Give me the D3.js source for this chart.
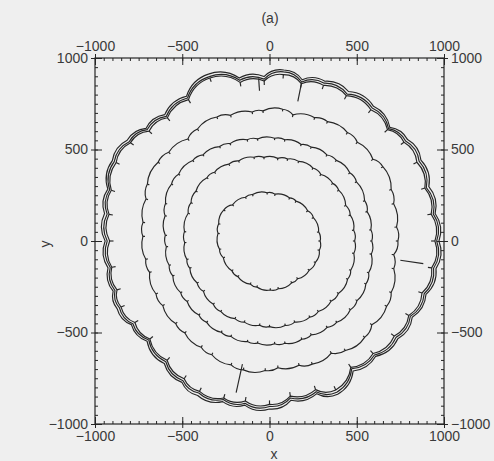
<!DOCTYPE html>
<html>
<head>
<meta charset="utf-8">
<script src="https://cdn.jsdelivr.net/npm/d3@7"></script>
<style>
  html, body { margin: 0; padding: 0; background: #efefef; }
  svg { display: block; }
  .tick text { font-family: "Liberation Sans", Arial, sans-serif; font-size: 14px; fill: #3a3a3a; }
</style>
</head>
<body>
<svg id="chart" width="494" height="461"></svg>
<script>
// Axis tick values
const majorTicks = [-1000, -500, 0, 500, 1000];
const minorTicks = d3.range(-1000, 1001, 50);

// Front positions: cusp points as [angle in degrees, radius]
const frontA = [[0,290],[10,286],[27,282],[37,274],[55,266],[64,262],[83,258],[93,264],[111,272],[120,276],[137,290],[147,312],[162,306],[172,298],[189,290],[199,280],[217,270],[227,266],[245,260],[254,262],[271,268],[281,266],[299,262],[308,262],[325,278],[336,288],[350,290]];

const frontB = [[0,488],[7,486],[17,484],[24,478],[35,484],[41,480],[51,468],[58,470],[69,466],[77,460],[84,454],[94,458],[101,466],[112,472],[119,480],[130,490],[136,498],[147,502],[155,496],[162,490],[174,490],[181,486],[192,484],[198,480],[209,474],[216,468],[227,472],[234,476],[245,468],[252,466],[263,464],[270,468],[281,470],[288,466],[299,476],[306,476],[317,482],[324,488],[335,494],[341,492],[352,488]];

const frontC = [[0,586],[6,584],[16,582],[22,588],[33,594],[39,592],[49,584],[55,574],[65,566],[71,558],[81,560],[87,562],[97,562],[103,568],[113,578],[119,590],[129,606],[135,622],[145,636],[151,642],[161,630],[167,614],[177,598],[183,592],[193,590],[199,586],[209,582],[215,576],[225,572],[231,572],[241,570],[247,566],[257,564],[263,562],[273,562],[279,566],[289,568],[295,566],[305,576],[311,588],[321,596],[327,598],[337,600],[343,594],[353,588]];

const frontD = [[0,736],[6,732],[16,740],[22,752],[32,766],[37,742],[47,738],[53,742],[63,732],[69,722],[79,702],[84,724],[93,712],[98,712],[108,722],[114,742],[124,738],[130,728],[140,754],[146,770],[156,766],[162,744],[172,732],[178,726],[188,716],[194,708],[204,712],[210,706],[220,702],[226,698],[236,700],[242,704],[252,712],[258,720],[268,708],[274,694],[284,700],[290,716],[300,708],[306,740],[316,758],[322,744],[332,760],[338,752],[348,728],[354,716]];

const frontE1 = [[0,948],[9,938],[18,936],[27,948],[35,941],[42,910],[51,923],[61,908],[70,905],[78,879],[85,913],[92,875],[101,883],[111,954],[121,901],[131,892],[139,915],[146,961],[154,978],[163,948],[171,931],[180,916],[189,915],[197,914],[203,924],[210,891],[218,870],[228,877],[237,898],[244,914],[253,897],[261,885],[270,893],[278,856],[288,854],[295,898],[304,833],[314,855],[324,884],[333,896],[342,919],[351,941]];

const frontE2 = [[0,958],[9,950],[18,945],[27,962],[35,952],[42,918],[51,935],[61,918],[70,918],[78,888],[85,928],[92,885],[101,895],[111,962],[121,912],[131,902],[139,928],[146,970],[154,990],[163,958],[171,942],[180,930],[189,924],[197,926],[203,934],[210,904],[218,878],[228,888],[237,910],[244,924],[253,906],[261,898],[270,904],[278,866],[288,866],[295,912],[304,842],[314,866],[324,896],[333,906],[342,932],[351,952]];

const frontE3 = [[0,971],[9,961],[18,960],[27,974],[35,966],[42,928],[51,947],[61,934],[70,929],[78,901],[85,938],[92,899],[101,907],[111,977],[121,923],[131,915],[139,938],[146,984],[154,1002],[163,969],[171,957],[180,942],[189,937],[197,937],[203,948],[210,914],[218,890],[228,901],[237,921],[244,939],[253,918],[261,908],[270,918],[278,879],[288,877],[295,924],[304,857],[314,876],[324,909],[333,918],[342,943],[351,966]];

// Inward streaks left behind by the front: [angle, inner radius, outer radius]
const streaks = [[352,757,890],[257,690,850],[94,823,890],[78,780,885]];

// Each front with its arc flatness (arc radius as a multiple of chord) and cusp notch depth
const fronts = [
  { pts: frontA, k: 1.25, notch: 10 }, { pts: frontB, k: 1.3, notch: 10 },
  { pts: frontC, k: 1.3, notch: 10 }, { pts: frontD, k: 1.3, notch: 12 },
  { pts: frontE1, k: 1.1, notch: 22 }, { pts: frontE2, k: 1.1, notch: 0 },
  { pts: frontE3, k: 1.1, notch: 0 }
];

const svg = d3.select("#chart");
const x = d3.scaleLinear().domain([-1000, 1000]).range([95, 444]);
const y = d3.scaleLinear().domain([-1000, 1000]).range([424, 58]);

const ink = "#262626";

// Convert a polar cusp point to screen coordinates
function toScreen(d) {
  const a = d[0] * Math.PI / 180;
  return [x(d[1] * Math.cos(a)), y(d[1] * Math.sin(a))];
}

// Closed front: consecutive cusps joined by outward-bulging arcs
function scallopPath(f) {
  const p = f.pts.map(toScreen);
  let s = `M${p[0][0]},${p[0][1]}`;
  for (let i = 0; i < p.length; i++) {
    const q = p[(i + 1) % p.length];
    const c = Math.hypot(q[0] - p[i][0], q[1] - p[i][1]);
    const r = c * f.k;
    s += `A${r},${r} 0 0 0 ${q[0]},${q[1]}`;
  }
  return s + "Z";
}

svg.append("g")
  .selectAll("path")
  .data(fronts)
  .join("path")
  .attr("d", scallopPath)
  .attr("fill", "none")
  .attr("stroke", ink)
  .attr("stroke-width", 1.15);

// Short inward notches at the cusps
const notches = fronts.filter(f => f.notch > 0)
  .flatMap(f => f.pts.map(d => [d[0], d[1], d[1] - f.notch]));

svg.append("g")
  .selectAll("line")
  .data(notches.concat(streaks))
  .join("line")
  .attr("x1", d => toScreen([d[0], d[1]])[0])
  .attr("y1", d => toScreen([d[0], d[1]])[1])
  .attr("x2", d => toScreen([d[0], d[2]])[0])
  .attr("y2", d => toScreen([d[0], d[2]])[1])
  .attr("stroke", ink)
  .attr("stroke-width", 1.15);

// Axes on all four sides: minor ticks inward, major ticks crossing the frame
const fmt = d3.format("d");
function drawAxis(axisFn, scale, transform) {
  const gMinor = svg.append("g").attr("transform", transform)
    .call(axisFn(scale).tickValues(minorTicks).tickSize(-3).tickFormat(""));
  const gIn = svg.append("g").attr("transform", transform)
    .call(axisFn(scale).tickValues(majorTicks).tickSize(-7).tickFormat(""));
  const gOut = svg.append("g").attr("transform", transform)
    .call(axisFn(scale).tickValues(majorTicks).tickSize(4).tickPadding(3).tickFormat(fmt));
  [gMinor, gIn, gOut].forEach(g => {
    g.select(".domain").remove();
    g.selectAll("line").attr("stroke", ink);
  });
}
drawAxis(d3.axisTop, x, "translate(0,58)");
drawAxis(d3.axisBottom, x, "translate(0,424)");
drawAxis(d3.axisLeft, y, "translate(95,0)");
drawAxis(d3.axisRight, y, "translate(444,0)");

svg.append("rect")
  .attr("x", 95).attr("y", 58)
  .attr("width", 444 - 95).attr("height", 424 - 58)
  .attr("fill", "none")
  .attr("stroke", ink)
  .attr("stroke-width", 1.2);

const labelStyle = sel => sel
  .attr("font-family", "Liberation Sans, Arial, sans-serif")
  .attr("font-size", 14)
  .attr("fill", "#3a3a3a")
  .attr("text-anchor", "middle");

svg.append("text").attr("x", 270).attr("y", 23).text("(a)").call(labelStyle);
svg.append("text").attr("x", 274).attr("y", 459).text("x").call(labelStyle);
svg.append("text")
  .attr("transform", "translate(50,244) rotate(-90)")
  .text("y").call(labelStyle);
</script>
</body>
</html>
